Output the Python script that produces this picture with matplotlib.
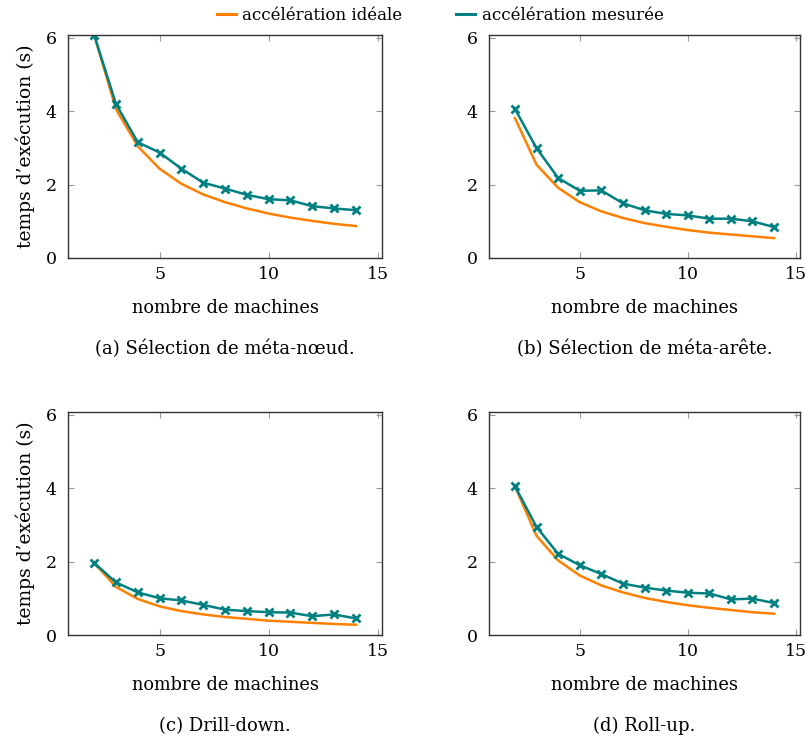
import numpy as np
import matplotlib
matplotlib.use("Agg")
import matplotlib.pyplot as plt
from matplotlib.lines import Line2D

# nombre de machines
machines = [2, 3, 4, 5, 6, 7, 8, 9, 10, 11, 12, 13, 14]

# (a) Sélection de méta-nœud
ideal_a = [6.07, 4.05, 3.04, 2.43, 2.02, 1.73, 1.52, 1.35, 1.21, 1.10, 1.01, 0.93, 0.87]
mesure_a = [6.07, 4.19, 3.15, 2.87, 2.43, 2.05, 1.89, 1.72, 1.60, 1.57, 1.41, 1.35, 1.30]

# (b) Sélection de méta-arête
ideal_b = [3.81, 2.54, 1.91, 1.52, 1.27, 1.09, 0.95, 0.85, 0.76, 0.69, 0.64, 0.59, 0.54]
mesure_b = [4.06, 2.99, 2.18, 1.83, 1.84, 1.49, 1.30, 1.20, 1.16, 1.07, 1.07, 1.00, 0.84]

# (c) Drill-down
ideal_c = [1.96, 1.31, 0.98, 0.78, 0.65, 0.56, 0.49, 0.44, 0.39, 0.36, 0.33, 0.30, 0.28]
mesure_c = [1.96, 1.43, 1.16, 1.00, 0.94, 0.82, 0.69, 0.65, 0.62, 0.61, 0.51, 0.56, 0.45]

# (d) Roll-up
ideal_d = [4.05, 2.70, 2.03, 1.62, 1.35, 1.16, 1.01, 0.90, 0.81, 0.74, 0.68, 0.62, 0.58]
mesure_d = [4.05, 2.94, 2.21, 1.90, 1.66, 1.40, 1.29, 1.21, 1.15, 1.13, 0.97, 0.99, 0.87]

captions = ["(a) Sélection de méta-nœud.", "(b) Sélection de méta-arête.",
            "(c) Drill-down.", "(d) Roll-up."]

plt.rcParams['font.family'] = ['DejaVu Serif']
plt.rcParams['font.size'] = 12

ORANGE = "#ff8000"
TEAL = "#008080"

W, H = 807, 738
fig = plt.figure(figsize=(W / 100, H / 100), dpi=100)

# boxes in pixels: left, top, right, bottom
boxes = [(68, 35, 382, 258), (489, 35, 800, 258),
         (68, 412, 382, 635), (489, 412, 800, 635)]
data = [(ideal_a, mesure_a), (ideal_b, mesure_b),
        (ideal_c, mesure_c), (ideal_d, mesure_d)]

for i, ((l, t, r, b), (ideal, mes)) in enumerate(zip(boxes, data)):
    ax = fig.add_axes([l / W, 1 - b / H, (r - l) / W, (b - t) / H])
    ax.plot(machines, ideal, color=ORANGE, lw=1.8)
    ax.plot(machines, mes, color=TEAL, lw=1.8, marker='x', ms=6, mew=2)
    ax.set_xlim(0.8, 15.2)
    ax.set_ylim(0, 6.07)
    ax.set_xticks([5, 10, 15])
    ax.set_yticks([0, 2, 4, 6])
    ax.tick_params(direction='in', top=True, right=True, length=4,
                   color='#999999', labelsize=12.5)
    ax.tick_params(axis='x', pad=6)
    ax.tick_params(axis='y', pad=8)
    for s in ax.spines.values():
        s.set_color('#333333')
        s.set_linewidth(1.0)
    ax.set_xlabel("nombre de machines", fontsize=12.8, labelpad=11)
    if i % 2 == 0:
        ax.set_ylabel("temps d’exécution (s)", fontsize=13.5, labelpad=8)
    cx = (l + r) / 2 / W
    fig.text(cx, 1 - (b + 91) / H, captions[i], ha='center', va='center', fontsize=13)

handles = [Line2D([], [], color=ORANGE, lw=2.2), Line2D([], [], color=TEAL, lw=2.2)]
fig.legend(handles=handles, labels=["accélération idéale", "accélération mesurée"],
           loc='center', bbox_to_anchor=(440 / W, 1 - 15 / H),
           ncol=2, frameon=False, fontsize=12, handlelength=1.15,
           handletextpad=0.4, columnspacing=3.2)

fig.savefig("out.png", dpi=100)
